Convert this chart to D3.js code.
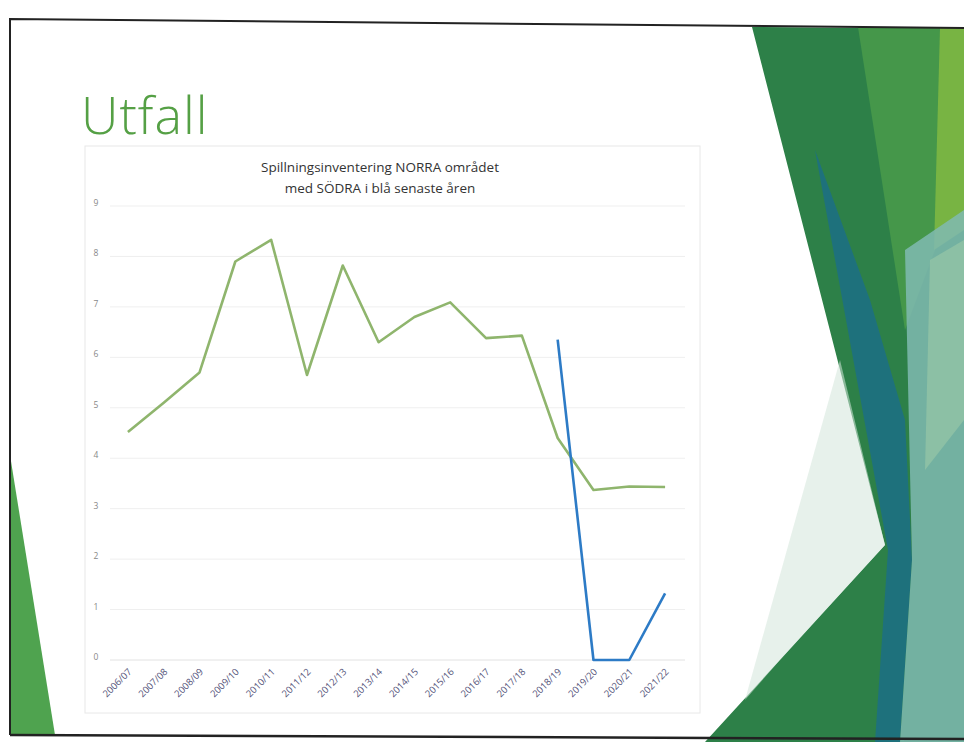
<!DOCTYPE html>
<html>
<head>
<meta charset="utf-8">
<script src="https://cdn.jsdelivr.net/npm/d3@7"></script>
<style>
  body { margin: 0; background: #fff; }
  svg { display: block; }
</style>
</head>
<body>
<svg id="slide" width="964" height="742"></svg>
<script>
// Chart data
const seasons = ["2006/07", "2007/08", "2008/09", "2009/10", "2010/11", "2011/12", "2012/13", "2013/14",
  "2014/15", "2015/16", "2016/17", "2017/18", "2018/19", "2019/20", "2020/21", "2021/22"];
const norraValues = [4.52, 5.1, 5.7, 7.9, 8.33, 5.65, 7.82, 6.3, 6.8, 7.09, 6.38, 6.43, 4.4, 3.37, 3.44, 3.43];
const sodraValues = [null, null, null, null, null, null, null, null, null, null, null, null, 6.35, 0, 0, 1.32];
const yTicks = [0, 1, 2, 3, 4, 5, 6, 7, 8, 9];

const svg = d3.select("#slide");

// Slide decoration (background shapes)
const deco = svg.append("g");
const shape = (pts, fill, op = 1) => deco.append("polygon")
  .attr("points", pts.map(p => p.join(",")).join(" "))
  .attr("fill", fill)
  .attr("opacity", op);

shape([[752, 27], [964, 29], [964, 742], [705, 742], [885, 545]], "#2d8048");
shape([[858, 27], [945, 28], [935, 250], [905, 330]], "#45974a");
shape([[940, 28], [964, 28], [964, 230], [934, 250]], "#78b443");
shape([[815, 150], [870, 300], [905, 420], [912, 560], [900, 742], [875, 742], [888, 550]], "#1c6f86", 0.85);
shape([[905, 250], [964, 210], [964, 742], [900, 742], [912, 560]], "#80bab2", 0.85);
shape([[930, 260], [964, 240], [964, 420], [925, 470]], "#9cc9a8", 0.6);
shape([[840, 360], [885, 545], [780, 660], [745, 700]], "#d4e6da", 0.55);
shape([[10, 455], [55, 735], [10, 735]], "#4fa34f");

// Slide frame
deco.append("path")
  .attr("d", "M10,735 L10,19 L964,28")
  .attr("fill", "none")
  .attr("stroke", "#222")
  .attr("stroke-width", 2);
deco.append("line")
  .attr("x1", 10).attr("y1", 735).attr("x2", 964).attr("y2", 739)
  .attr("stroke", "#222").attr("stroke-width", 2.5);

// Slide title
svg.append("text")
  .attr("x", 81)
  .attr("y", 134)
  .attr("font-family", "Open Sans")
  .attr("font-weight", 300)
  .attr("font-size", 52)
  .attr("letter-spacing", 1)
  .attr("fill", "#55a045")
  .text("Utfall");

// Chart area
svg.append("rect")
  .attr("x", 85).attr("y", 146)
  .attr("width", 615).attr("height", 567)
  .attr("fill", "none")
  .attr("stroke", "#e8e8e8");

const title = svg.append("text")
  .attr("text-anchor", "middle")
  .attr("font-family", "Open Sans")
  .attr("font-size", 13.5)
  .attr("fill", "#333");
title.append("tspan").attr("x", 380).attr("y", 172).text("Spillningsinventering NORRA området");
title.append("tspan").attr("x", 380).attr("y", 193).text("med SÖDRA i blå senaste åren");

// Scales
const xScale = d3.scalePoint()
  .domain(seasons)
  .range([110, 683])
  .padding(0.5);

const yScale = d3.scaleLinear()
  .domain([0, 9])
  .range([660, 206]);

// Gridlines
svg.append("g")
  .selectAll("line")
  .data(yTicks)
  .join("line")
    .attr("x1", 110)
    .attr("x2", 685)
    .attr("y1", d => yScale(d))
    .attr("y2", d => yScale(d))
    .attr("stroke", d => d === 0 ? "#e2e2e2" : "#efefef");

// Y axis labels
svg.append("g")
  .selectAll("text")
  .data(yTicks)
  .join("text")
    .attr("x", 96)
    .attr("y", d => yScale(d) - 3)
    .attr("dy", "0.35em")
    .attr("text-anchor", "middle")
    .attr("font-family", "Open Sans")
    .attr("font-size", 8.5)
    .attr("fill", "#888")
    .text(d => d);

// X axis labels
svg.append("g")
  .selectAll("text")
  .data(seasons)
  .join("text")
    .attr("text-anchor", "end")
    .attr("transform", d => `translate(${xScale(d) + 2},${670}) rotate(-45)`)
    .attr("dy", "0.35em")
    .attr("font-family", "Open Sans")
    .attr("font-size", 9.5)
    .attr("fill", "#55547a")
    .text(d => d);

// Lines
const lineGen = d3.line()
  .defined(d => d.v !== null)
  .x(d => xScale(d.s))
  .y(d => yScale(d.v));

svg.append("path")
  .datum(seasons.map((s, i) => ({ s, v: norraValues[i] })))
  .attr("d", lineGen)
  .attr("fill", "none")
  .attr("stroke", "#8fb56d")
  .attr("stroke-width", 2.6)
  .attr("stroke-linejoin", "round");

svg.append("path")
  .datum(seasons.map((s, i) => ({ s, v: sodraValues[i] })))
  .attr("d", lineGen)
  .attr("fill", "none")
  .attr("stroke", "#2d7bc6")
  .attr("stroke-width", 2.6)
  .attr("stroke-linejoin", "round");
</script>
</body>
</html>
